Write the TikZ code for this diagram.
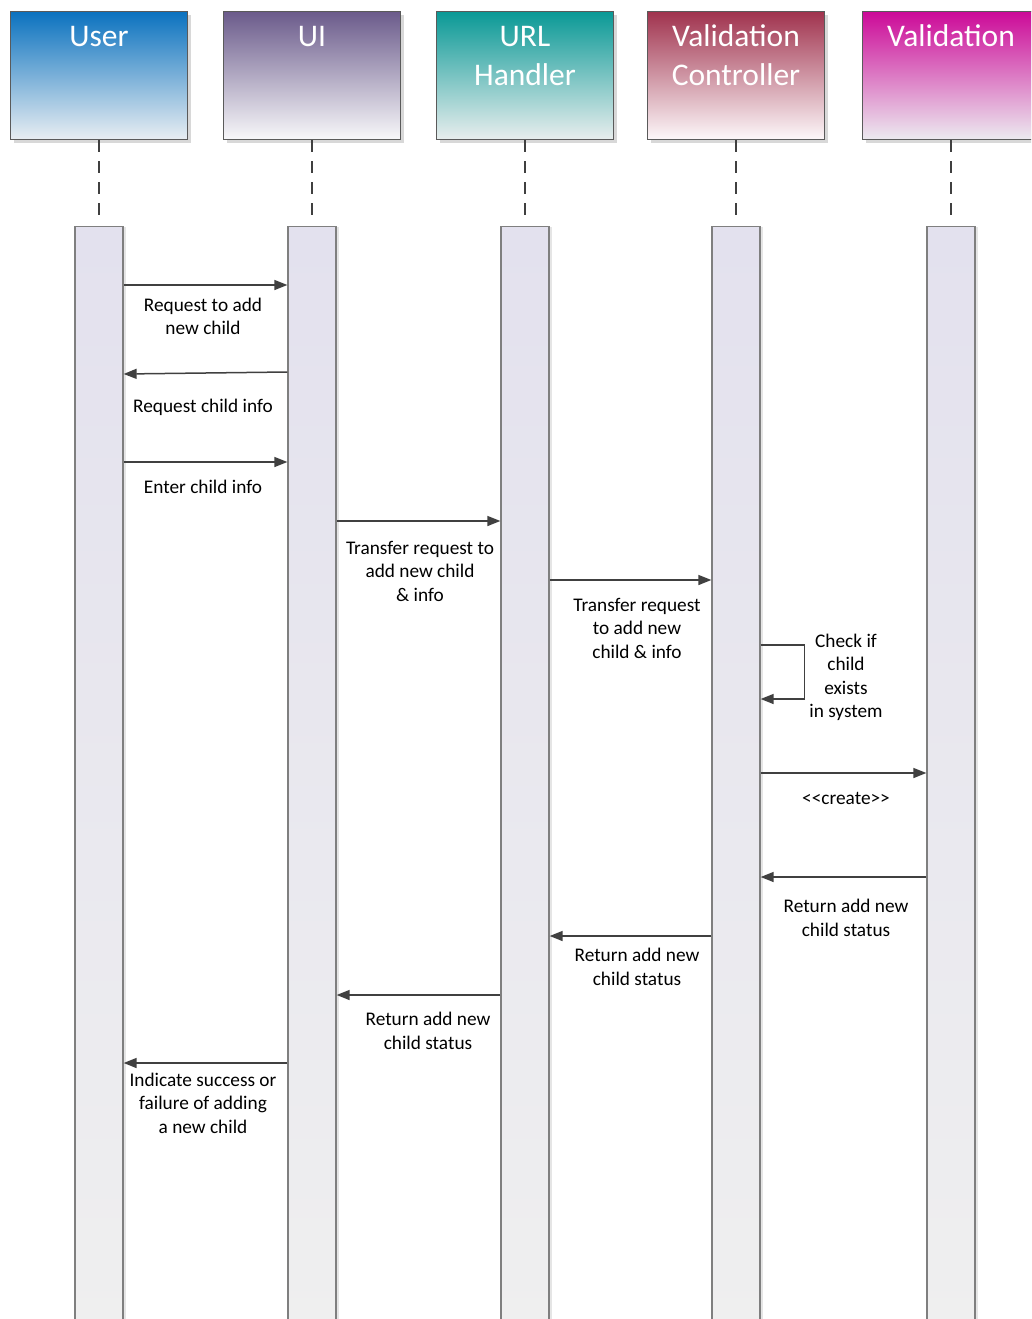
\documentclass[tikz,border=0pt]{standalone}
\usepackage{fontspec}
\setmainfont{Carlito}
\usetikzlibrary{arrows.meta,shadows}

\definecolor{ink}{HTML}{404040}
\definecolor{frame}{HTML}{5A5A5A}
\definecolor{barline}{HTML}{7F7F7F}
\definecolor{barTop}{HTML}{E3E1EE}
\definecolor{barBot}{HTML}{EFEFEF}
\definecolor{userTop}{HTML}{0B72BF}
\definecolor{userBot}{HTML}{E9EEF2}
\definecolor{uiTop}{HTML}{6B5B8B}
\definecolor{uiBot}{HTML}{F8F8FA}
\definecolor{urlTop}{HTML}{0A9996}
\definecolor{urlBot}{HTML}{E9EEEE}
\definecolor{vcTop}{HTML}{A0334E}
\definecolor{vcBot}{HTML}{FDF8FA}
\definecolor{valTop}{HTML}{CC0A98}
\definecolor{valBot}{HTML}{ECEBF0}

\tikzset{
  head/.style={draw=frame, line width=1.3pt, minimum width=177pt, minimum height=128pt,
    anchor=north west, inner sep=0pt,
    drop shadow={shadow xshift=3pt, shadow yshift=-3pt, opacity=0.25, fill=black!60}},
  headtxt/.style={anchor=base, text=white, font=\fontsize{31.5}{39}\selectfont, align=center, inner sep=0pt},
  lifeline/.style={draw=ink, line width=1.5pt, dash pattern=on 12pt off 9pt},
  bar/.style={draw=barline, line width=1.3pt, minimum width=48pt, minimum height=1110pt,
    anchor=north, inner sep=0pt, top color=barTop, bottom color=barBot,
    drop shadow={shadow xshift=2.5pt, shadow yshift=0pt, opacity=0.2, fill=black!50}},
  msg/.style={draw=ink, line width=1.5pt, -{Triangle[length=13pt,width=10pt]}},
  % labels are placed by the baseline of their last line
  lbl/.style={anchor=base, align=center, inner sep=0pt, text=black,
    font=\fontsize{19.3}{23.5}\selectfont}
}

\begin{document}
\begin{tikzpicture}[x=1pt,y=-1pt]
\useasboundingbox (0,0) rectangle (1031,1319);
\clip (0,0) rectangle (1031,1319);
\fill[white] (0,0) rectangle (1031,1319);

% participant heads
\node[head, top color=userTop, bottom color=userBot] (hUser) at (10,11) {};
\node[head, top color=uiTop, bottom color=uiBot] (hUI) at (223,11) {};
\node[head, top color=urlTop, bottom color=urlBot] (hURL) at (436,11) {};
\node[head, top color=vcTop, bottom color=vcBot] (hVC) at (647,11) {};
\node[head, top color=valTop, bottom color=valBot, minimum width=178pt] (hVal) at (862,11) {};

\node[headtxt] (tUser) at (99,47) {User};
\node[headtxt] (tUI) at (312,47) {UI};
\node[headtxt] (tURL) at (525,86) {URL\\Handler};
\node[headtxt] (tVC) at (736,86) {Validation\\Controller};
\node[headtxt] (tVal) at (951,47) {Validation};

% activation bars
\node[bar] (bUser) at (99,226) {};
\node[bar] (bUI) at (312,226) {};
\node[bar] (bURL) at (525,226) {};
\node[bar] (bVC) at (736,226) {};
\node[bar] (bVal) at (951,226) {};

% lifelines between heads and bars
\foreach \h/\b in {hUser/bUser, hUI/bUI, hURL/bURL, hVC/bVC, hVal/bVal}
  \draw[lifeline] (\b.north |- \h.south) -- ([yshift=7pt]\b.north);

% messages
\draw[msg] (bUser.east |- 0,285) -- (bUI.west |- 0,285);
\node[lbl] (m1) at (203,334.5) {Request to add\\new child};

\draw[msg] (bUI.west |- 0,372) -- (bUser.east |- 0,374);
\node[lbl] (m2) at (203,412) {Request child info};

\draw[msg] (bUser.east |- 0,462) -- (bUI.west |- 0,462);
\node[lbl] (m3) at (203,493) {Enter child info};

\draw[msg] (bUI.east |- 0,521) -- (bURL.west |- 0,521);
\node[lbl] (m4) at (420,601) {Transfer request to\\add new child\\\& info};

\draw[msg] (bURL.east |- 0,580) -- (bVC.west |- 0,580);
\node[lbl] (m5) at (637,658) {Transfer request\\to add new\\child \& info};

\draw[msg] (bVC.east |- 0,645) -- ++(44,0) |- (bVC.east |- 0,699);
\node[lbl] (m6) at (846,717.5) {Check if\\child\\exists\\in system};

\draw[msg] (bVC.east |- 0,773) -- (bVal.west |- 0,773);
\node[lbl] (m7) at (846,804) {<{}<create>{}>};

\draw[msg] (bVal.west |- 0,877) -- (bVC.east |- 0,877);
\node[lbl] (m8) at (846,936) {Return add new\\child status};

\draw[msg] (bVC.west |- 0,936) -- (bURL.east |- 0,936);
\node[lbl] (m9) at (637,985) {Return add new\\child status};

\draw[msg] (bURL.west |- 0,995) -- (bUI.east |- 0,995);
\node[lbl] (m10) at (428,1049) {Return add new\\child status};

\draw[msg] (bUI.west |- 0,1063) -- (bUser.east |- 0,1063);
\node[lbl] (m11) at (203,1133) {Indicate success or\\failure of adding\\a new child};
\end{tikzpicture}
\end{document}
